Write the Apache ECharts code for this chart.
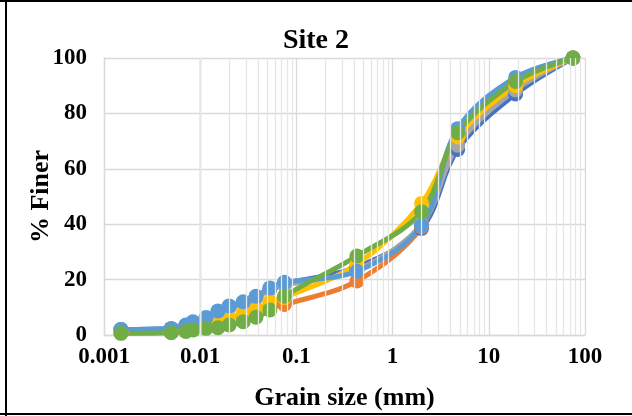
<!DOCTYPE html>
<html>
<head>
<meta charset="utf-8">
<script src="https://cdn.jsdelivr.net/npm/echarts@6/dist/echarts.min.js"></script>
<style>
  html, body { margin: 0; padding: 0; background: #fff; }
  #chart { width: 632px; height: 416px; }
</style>
</head>
<body>
<div id="chart"></div>
<script>
// Grain sizes (mm): hydrometer readings, then sieves
const grainSize = [0.0015, 0.005, 0.0071, 0.0084, 0.0115, 0.0153, 0.020, 0.028, 0.038, 0.053, 0.075, 0.425, 2, 4.75, 19, 75];

// Percent finer for each sample
const sample1 = [2, 2.3, 3.4, 4.4, 6, 8.3, 10, 11.5, 13.5, 16.5, 18.5, 24.5, 38.5, 67, 87, 100];
const sample2 = [0.8, 1.1, 1.5, 2, 3, 4, 5, 7.5, 8.5, 10, 11, 19.5, 39, 71, 91.5, 100];
const sample3 = [2, 2.3, 3.4, 4.4, 6, 8.3, 10, 11.5, 13.5, 16.5, 18, 23.5, 40, 68.5, 88.5, 100];
const sample4 = [0.8, 1.1, 1.8, 2.5, 4, 5, 6, 7.8, 9, 12, 13.5, 25.5, 47.5, 71.5, 90, 100];
const sample5 = [2, 2.3, 3.6, 4.8, 6.3, 8.7, 10.5, 12, 14, 17, 19, 23, 39.5, 74.5, 93, 100];
const sample6 = [0.6, 0.8, 1.3, 1.8, 2.4, 2.6, 3.6, 4.8, 6.4, 9, 14, 28.5, 44.5, 73, 91.5, 100];

const samples = [sample1, sample2, sample3, sample4, sample5, sample6];
const colors = ['#4472C4', '#ED7D31', '#A5A5A5', '#FFC000', '#5B9BD5', '#70AD47'];

const xTicks = ['0.001', '0.01', '0.1', '1', '10', '100'];

// minor grid positions 2..9 within each decade
const minorLines = [];
[0.001, 0.01, 0.1, 1, 10].forEach(function (d) {
  for (let k = 2; k <= 9; k++) minorLines.push({ xAxis: +(d * k).toPrecision(3) });
});

const FONT = '"Liberation Serif", "Times New Roman", serif';

const series = [{
  type: 'line',
  data: [],
  silent: true,
  z: 1,
  markLine: {
    silent: true,
    symbol: ['none', 'none'],
    label: { show: false },
    lineStyle: { color: '#E6E6E6', width: 1.3, type: 'solid' },
    animation: false,
    data: minorLines
  }
}];

samples.forEach(function (vals, i) {
  series.push({
    type: 'line',
    name: 'Sample ' + (i + 1),
    data: grainSize.map(function (g, j) { return [g, vals[j]]; }),
    smooth: 0.35,
    symbol: 'circle',
    symbolSize: 15,
    z: 3,
    lineStyle: { color: colors[i], width: 5 },
    itemStyle: { color: colors[i], borderWidth: 0 },
    emphasis: { disabled: true }
  });
});

const chart = echarts.init(document.getElementById('chart'), null, { renderer: 'canvas' });
chart.setOption({
  animation: false,
  backgroundColor: '#fff',
  title: {
    text: 'Site 2',
    left: 'center',
    top: 22,
    textStyle: { fontFamily: FONT, fontWeight: 'bold', fontSize: 28, color: '#000' }
  },
  grid: { left: 104, right: 47, top: 58, bottom: 81, containLabel: false },
  xAxis: {
    type: 'log',
    logBase: 10,
    min: 0.001,
    max: 100,
    name: 'Grain size (mm)',
    nameLocation: 'middle',
    nameGap: 50,
    nameMoveOverlap: false,
    nameTextStyle: { fontFamily: FONT, fontWeight: 'bold', fontSize: 26, color: '#000' },
    axisLine: { show: true, lineStyle: { color: '#D9D9D9', width: 1.3 } },
    axisTick: { show: false },
    splitLine: { show: true, lineStyle: { color: '#D9D9D9', width: 1.3 } },
    axisLabel: {
      margin: 11,
      fontFamily: FONT, fontWeight: 'bold', fontSize: 23, color: '#000',
      formatter: function (v) {
        const e = Math.round(Math.log10(v)) + 3;
        return xTicks[e] !== undefined ? xTicks[e] : '';
      }
    }
  },
  yAxis: {
    type: 'value',
    min: 0,
    max: 100,
    interval: 20,
    name: '% Finer',
    nameLocation: 'middle',
    nameRotate: 90,
    nameGap: 50,
    nameMoveOverlap: false,
    nameTextStyle: { fontFamily: FONT, fontWeight: 'bold', fontSize: 26, color: '#000' },
    axisLine: { show: true, lineStyle: { color: '#D9D9D9', width: 1.3 } },
    axisTick: { show: false },
    splitLine: { show: true, lineStyle: { color: '#D9D9D9', width: 1.3 } },
    axisLabel: { margin: 17, fontFamily: FONT, fontWeight: 'bold', fontSize: 23, color: '#000' }
  },
  graphic: [
    { type: 'line', shape: { x1: 6, y1: 0, x2: 6, y2: 416 }, style: { stroke: '#000', lineWidth: 2 } },
    { type: 'line', shape: { x1: 0, y1: 1, x2: 632, y2: 1 }, style: { stroke: '#000', lineWidth: 2 } },
    { type: 'line', shape: { x1: 0, y1: 414, x2: 632, y2: 414 }, style: { stroke: '#000', lineWidth: 2 } }
  ],
  series: series
});
</script>
</body>
</html>
